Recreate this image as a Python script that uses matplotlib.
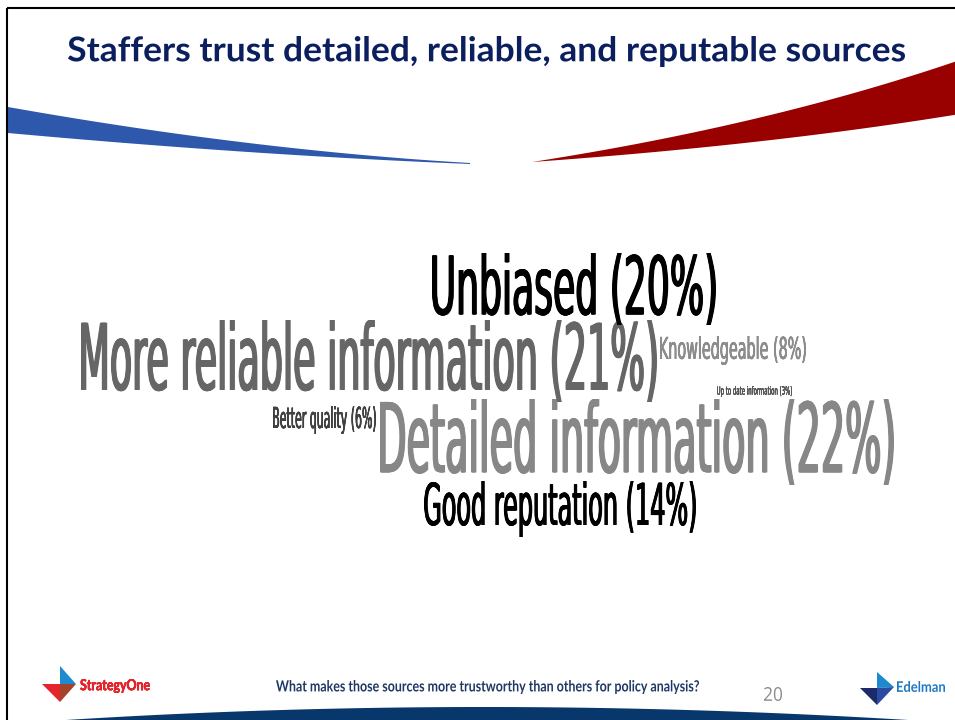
import matplotlib
matplotlib.use('Agg')

import matplotlib.pyplot as plt
from matplotlib import patheffects
from matplotlib.font_manager import FontProperties
from matplotlib.textpath import TextPath
from matplotlib.transforms import Affine2D, Bbox
from matplotlib.text import Text
from matplotlib.patches import Polygon
import numpy as np

W, H, DPI = 955, 720, 100

# survey answers and share of staffers
motivos = ["Detailed information", "More reliable information", "Unbiased",
           "Good reputation", "Knowledgeable", "Better quality",
           "Up to date information"]
percentuais = [22, 21, 20, 14, 8, 6, 3]

TITULO = "Staffers trust detailed, reliable, and reputable sources"
PERGUNTA = "What makes those sources more trustworthy than others for policy analysis?"
PAGINA = "20"

# word cloud layout: ink box (x0, x1, top, bottom) in pixels + colour
LAYOUT = {
    "Unbiased": ((432, 716, 253, 325), '#000000'),
    "More reliable information": ((81, 657, 320, 402), '#666666'),
    "Knowledgeable": ((660, 806, 336, 365), '#8c8c8c'),
    "Up to date information": ((717, 792, 386, 397), '#555555'),
    "Better quality": ((273, 376, 406, 434), '#404040'),
    "Detailed information": ((380, 894, 399, 485), '#878787'),
    "Good reputation": ((424, 696, 481, 537), '#000000'),
}


class Squeeze(patheffects.AbstractPathEffect):
    """Horizontal squeeze around the text anchor (fake condensed font).
    'grosso' smears glyphs sideways so vertical stems get heavier."""
    def __init__(self, texto, grosso=0.0):
        super().__init__()
        self.texto = texto
        self.grosso = grosso

    def draw_path(self, renderer, gc, tpath, affine, rgbFace=None):
        t = self.texto
        xd = t.get_transform().transform(t.get_position())[0]
        base = affine + Affine2D().translate(-xd, 0).scale(t.sx, 1).translate(xd, 0)
        desloc = np.linspace(-self.grosso, self.grosso, 5) if self.grosso > 0 else [0.0]
        for dx in desloc:
            renderer.draw_path(gc, tpath, base + Affine2D().translate(dx, 0), rgbFace)


class TextoComprimido(Text):
    def __init__(self, *args, sx=1.0, **kwargs):
        super().__init__(*args, **kwargs)
        self.sx = sx

    def get_window_extent(self, renderer=None, dpi=None):
        bb = super().get_window_extent(renderer, dpi)
        xd = self.get_transform().transform(self.get_position())[0]
        return Bbox([[xd + (bb.x0 - xd) * self.sx, bb.y0],
                     [xd + (bb.x1 - xd) * self.sx, bb.y1]])


def texto_na_caixa(ax, s, caixa, cor, family, weight='normal', grosso=0.0):
    x0, x1, y0, y1 = caixa
    prop = FontProperties(family=family, weight=weight)
    bb = TextPath((0, 0), s, size=1, prop=prop).get_extents()
    fs_px = (y1 - y0) / bb.height
    d = grosso * fs_px
    sx = (x1 - x0 - 2 * d) / (bb.width * fs_px)
    ax_x = x0 + d - bb.x0 * fs_px * sx
    base_y = y0 + bb.y1 * fs_px
    prop.set_size(fs_px * 72 / DPI)
    t = TextoComprimido(ax_x, base_y, s, sx=sx, fontproperties=prop, color=cor,
                        ha='left', va='baseline')
    ax.add_artist(t)
    t.set_path_effects([Squeeze(t, d)])
    return t


def bezier(p0, c, p2, n=80):
    t = np.linspace(0, 1, n)[:, None]
    p0, c, p2 = np.array(p0), np.array(c), np.array(p2)
    return (1 - t) ** 2 * p0 + 2 * (1 - t) * t * c + t ** 2 * p2


fig = plt.figure(figsize=(W / DPI, H / DPI), dpi=DPI, facecolor='white')
ax = fig.add_axes([0, 0, 1, 1])
ax.set_xlim(0, W)
ax.set_ylim(H, 0)
ax.axis('off')

# slide frame
ax.plot([7, 7], [8, H], color='black', lw=1.5, solid_capstyle='butt')
ax.plot([7, W], [8, 8], color='black', lw=1.5, solid_capstyle='butt')

# blue swoosh (left)
sup = bezier((8, 107), (250, 150), (470, 163))
inf = bezier((8, 133), (250, 155), (470, 164))
ax.add_patch(Polygon(np.vstack([sup, inf[::-1]]), closed=True, color='#2D58AC', lw=0))

# red swoosh (right)
sup = bezier((532, 162), (770, 125), (960, 60))
inf = bezier((532, 162), (770, 145), (960, 114))
ax.add_patch(Polygon(np.vstack([sup, inf[::-1]]), closed=True, color='#990000', lw=0))

# bottom arc
arco = bezier((35, 722), (480, 692), (940, 722))
ax.add_patch(Polygon(arco, closed=True, color='#08386B', lw=0))

# title
texto_na_caixa(ax, TITULO, (68, 905, 36, 67), '#0B1F5E', 'Lato', 'bold')

# word cloud
for motivo, pct in zip(motivos, percentuais):
    caixa, cor = LAYOUT[motivo]
    texto_na_caixa(ax, f"{motivo} ({pct}%)", caixa, cor, 'DejaVu Sans', grosso=0.01)

# footer
texto_na_caixa(ax, PERGUNTA, (276, 699, 680, 694), '#1F3864', 'Lato', 'bold')
texto_na_caixa(ax, PAGINA, (764, 782, 687, 701), '#8a8a8a', 'Open Sans')

# StrategyOne logo
ax.add_patch(Polygon([(60, 666), (76, 684), (60, 684)], color='#1E8BCF', lw=0))
ax.add_patch(Polygon([(42, 684), (60, 684), (60, 702)], color='#E4262C', lw=0))
ax.add_patch(Polygon([(60, 684), (76, 684), (60, 702)], color='#A3432A', lw=0))
texto_na_caixa(ax, "StrategyOne", (80, 150, 679, 693), '#E3242B', 'Lato', 'bold', grosso=0.02)

# Edelman logo
ax.add_patch(Polygon([(877, 672), (894, 687), (877, 688)], color='#1B8AD0', lw=0))
ax.add_patch(Polygon([(860, 688), (877, 688), (877, 705)], color='#1C2A6B', lw=0))
ax.add_patch(Polygon([(877, 688), (894, 687), (877, 705)], color='#2B4BA0', lw=0))
texto_na_caixa(ax, "Edelman", (897, 945, 681, 692), '#1E78C2', 'Lato', 'bold')

fig.savefig('out.png', dpi=DPI, facecolor='white')
